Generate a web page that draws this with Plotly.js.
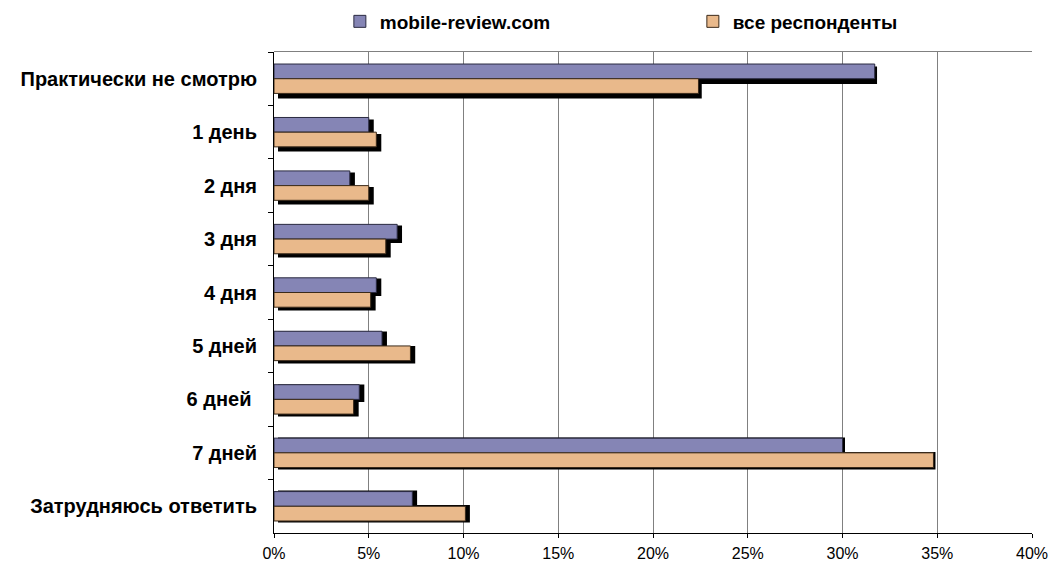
<!DOCTYPE html>
<html>
<head>
<meta charset="utf-8">
<script src="https://cdn.plot.ly/plotly-3.0.1.min.js"></script>
<style>html,body{margin:0;padding:0;background:#fff;}#chart{width:1051px;height:564px;}</style>
</head>
<body>
<div id="chart"></div>
<script>
const categories = ["Практически не смотрю", "1 день", "2 дня", "3 дня", "4 дня", "5 дней", "6 дней\u00a0", "7 дней", "Затрудняюсь ответить"];
const seriesNames = ["mobile-review.com", "все респонденты"];
const mobileReview = [0.317, 0.050, 0.040, 0.065, 0.054, 0.057, 0.045, 0.300, 0.073];
const allRespondents = [0.224, 0.054, 0.050, 0.059, 0.051, 0.072, 0.042, 0.348, 0.101];

const W = 1051, H = 564;
const mL = 274, mR = 19, mT = 52, mB = 31;
const pw = W - mL - mR, ph = H - mT - mB;
const sx = 4 / pw, sy = 4 / ph;

const font = "Liberation Sans, Arial, sans-serif";
const yRange = [categories.length - 0.5, -0.5];
const xRange = [0, 0.40];

const traces = [
  // axis holder (no marks)
  {type: "scatter", mode: "markers", x: [], y: [], xaxis: "x", yaxis: "y", showlegend: false, hoverinfo: "skip"},
  // shadows
  {type: "bar", orientation: "h", y: categories, x: mobileReview, xaxis: "x2", yaxis: "y2",
   marker: {color: "#000", line: {color: "#000", width: 3}}, showlegend: false, hoverinfo: "skip"},
  {type: "bar", orientation: "h", y: categories, x: allRespondents, xaxis: "x2", yaxis: "y2",
   marker: {color: "#000", line: {color: "#000", width: 3}}, showlegend: false, hoverinfo: "skip"},
  // coloured bars
  {type: "bar", orientation: "h", name: seriesNames[0], y: categories, x: mobileReview, xaxis: "x3", yaxis: "y3",
   marker: {color: "#8585b5", line: {color: "#2a2a40", width: 1}}},
  {type: "bar", orientation: "h", name: seriesNames[1], y: categories, x: allRespondents, xaxis: "x3", yaxis: "y3",
   marker: {color: "#e9b98b", line: {color: "#3a2a1a", width: 1}}}
];

const layout = {
  width: W, height: H,
  margin: {l: mL, r: mR, t: mT, b: mB, pad: 0, autoexpand: false},
  paper_bgcolor: "#fff", plot_bgcolor: "rgba(0,0,0,0)",
  font: {family: font, color: "#000"},
  barmode: "group", bargap: 0.45, bargroupgap: 0,
  showlegend: true,
  legend: {orientation: "h", x: 0.0869, xanchor: "left", y: 1.0634, yanchor: "middle",
           font: {family: font, size: 19, color: "#000", weight: "bold"},
           entrywidth: 308, entrywidthmode: "pixels", traceorder: "normal",
           itemclick: false, itemdoubleclick: false},
  xaxis: {domain: [0, 1], range: xRange, anchor: "y", tickformat: ".0%", dtick: 0.05, tick0: 0,
          showgrid: true, gridcolor: "#808080", gridwidth: 1, zeroline: false,
          showline: true, linecolor: "#000", linewidth: 1,
          ticks: "outside", ticklen: 4, tickcolor: "#000", ticklabelstandoff: 2,
          tickfont: {family: font, size: 16, color: "#000"}, fixedrange: true},
  yaxis: {domain: [0, 1], range: yRange, anchor: "x", type: "category",
          categoryorder: "array", categoryarray: categories,
          showgrid: false, zeroline: false, showline: true, linecolor: "#000", linewidth: 1,
          ticks: "outside", ticklen: 5, tickcolor: "#000", tickson: "boundaries",
          ticklabelstandoff: 12,
          tickfont: {family: font, size: 20, color: "#000", weight: "bold"}, fixedrange: true},
  xaxis2: {domain: [sx, 1 + sx], range: xRange, anchor: "y2", visible: false, fixedrange: true},
  yaxis2: {domain: [-sy, 1 - sy], range: yRange, anchor: "x2", type: "category",
           categoryorder: "array", categoryarray: categories, visible: false, fixedrange: true},
  xaxis3: {domain: [0, 1], range: xRange, anchor: "y3", side: "top", showgrid: false, zeroline: false,
           showline: true, linecolor: "#808080", linewidth: 1, showticklabels: false, ticks: "", fixedrange: true},
  yaxis3: {domain: [0, 1], range: yRange, anchor: "x3", type: "category",
           categoryorder: "array", categoryarray: categories, visible: false, fixedrange: true}
};

Plotly.newPlot("chart", traces, layout, {displayModeBar: false, staticPlot: true});
</script>
</body>
</html>
